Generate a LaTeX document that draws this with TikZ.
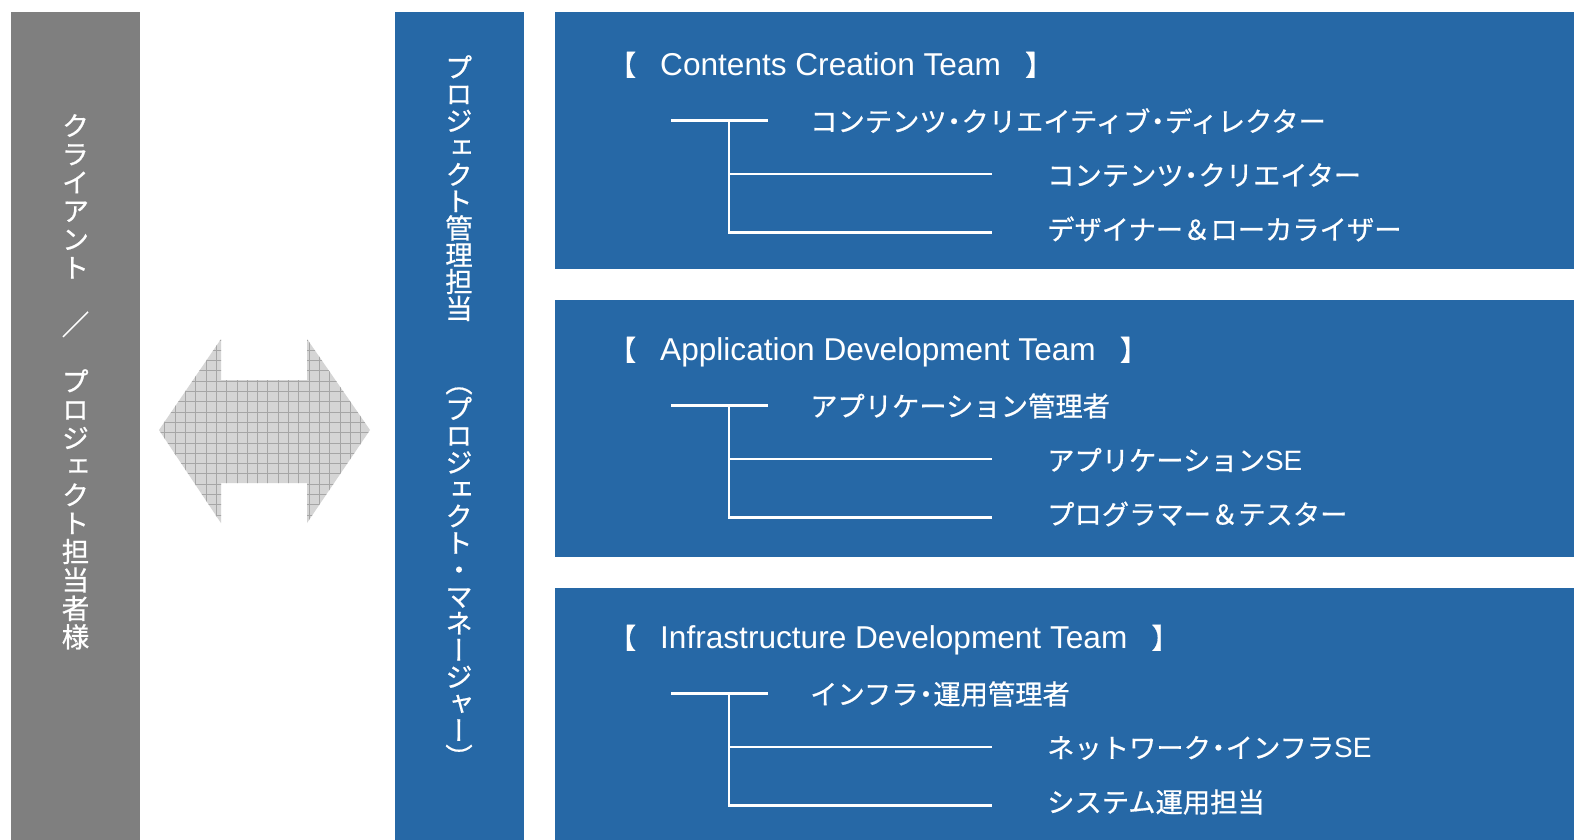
\documentclass[tikz,border=0pt]{standalone}
\usepackage{fontspec}
\setmainfont{Liberation Sans}
\newfontfamily\jp[FakeBold=0.6]{Noto Sans CJK JP}
\newfontfamily\jpv[RawFeature=+vert,FakeBold=0.6]{Noto Sans CJK JP}
\newfontfamily\lat{Liberation Sans}
\definecolor{teamblue}{HTML}{2668A6}
\definecolor{clientgray}{HTML}{7F7F7F}
\definecolor{arrowfill}{HTML}{D5D5D5}
\definecolor{arrowgrid}{HTML}{A6A6A6}
\newcommand\nd{\hspace{-0.23em}・\hspace{-0.23em}}
\newcommand\se{{\lat\fontsize{28}{30}\selectfont SE}}
\tikzset{
  panel/.style={fill=#1, draw=none, anchor=north west, inner sep=0pt, outer sep=0pt},
  titletext/.style={anchor=base west, inner sep=0pt, text=white, font=\lat\fontsize{31.6}{32}\selectfont},
  roletext/.style={anchor=west, inner sep=0pt, text=white, font=\jp\fontsize{27.3}{30}\selectfont},
  treeline/.style={draw=white, line width=2.6pt},
  verttext/.style={anchor=north, inner sep=0pt, align=center, text=white},
}
% #1 name, #2 box top, #3 box height, #4 content offset, #5 title, #6-#8 roles
\newcommand\teamblock[8]{%
  \node[panel=teamblue, minimum width=1019pt, minimum height=#3pt] (#1box) at (555,#2) {};
  \node[titletext] (#1title) at (608,{75.5+#4})
    {{\jp\fontsize{28}{30}\selectfont 【}\hspace{24pt}#5\hspace{24pt}{\jp\fontsize{28}{30}\selectfont 】}};
  \coordinate (#1l0) at (671,{120.7+#4});
  \coordinate (#1l1) at (768,{120.7+#4});
  \coordinate (#1j) at (729,{120.7+#4});
  \coordinate (#1j2) at (729,{174+#4});
  \coordinate (#1j3) at (729,{232.7+#4});
  \coordinate (#1e2) at (992,{174+#4});
  \coordinate (#1e3) at (992,{232.7+#4});
  \draw[treeline] (#1l0) -- (#1l1);
  \draw[treeline] (#1j) -- (#1j3) -- (#1e3);
  \draw[treeline] (#1j2) -- (#1e2);
  \node[roletext] (#1r1) at (810,{121+#4}) {#6};
  \node[roletext] (#1r2) at (1047,{175+#4}) {#7};
  \node[roletext] (#1r3) at (1047,{229+#4}) {#8};
}
\begin{document}
\begin{tikzpicture}[x=1pt,y=-1pt]
\useasboundingbox (0,0) rectangle (1574,840);
\fill[white] (0,0) rectangle (1574,840);
% client column
\node[panel=clientgray, minimum width=129pt, minimum height=828pt] (client) at (11,12) {};
\node[verttext, font=\jpv\fontsize{27.5}{28.4}\selectfont] (clienttext) at (75.5,114)
  {ク\\ラ\\イ\\ア\\ン\\ト\\　\\{\jp ／}\\　\\プ\\ロ\\ジ\\ェ\\ク\\ト\\担\\当\\者\\様};
% PM column
\node[panel=teamblue, minimum width=129pt, minimum height=828pt] (pm) at (395,12) {};
\node[verttext, font=\jpv\fontsize{27.5}{26.8}\selectfont] (pmtext) at (459,55)
  {プ\\ロ\\ジ\\ェ\\ク\\ト\\管\\理\\担\\当\\　\\[20pt]（\\プ\\ロ\\ジ\\ェ\\ク\\ト\\・\\マ\\ネ\\ー\\ジ\\ャ\\ー\\）};
% double arrow
\path[fill=arrowfill] (159,430) -- (221,339) -- (221,380) -- (307,380) -- (307,339) -- (370,430)
  -- (307,523) -- (307,483) -- (221,483) -- (221,523) -- cycle;
\begin{scope}
  \clip (159,430) -- (221,339) -- (221,380) -- (307,380) -- (307,339) -- (370,430)
  -- (307,523) -- (307,483) -- (221,483) -- (221,523) -- cycle;
  \draw[arrowgrid, line width=0.7pt, step=10.3pt] (150,330) grid (380,530);
\end{scope}
% teams
\teamblock{cc}{12}{257}{0}{Contents Creation Team}
  {コンテンツ\nd クリエイティブ\nd ディレクター}
  {コンテンツ\nd クリエイター}
  {デザイナー＆ローカライザー}
\teamblock{ad}{300}{257}{285}{Application Development Team}
  {アプリケーション管理者}
  {アプリケーション\se}
  {プログラマー＆テスター}
\teamblock{id}{588}{252}{573}{Infrastructure Development Team}
  {インフラ\nd 運用管理者}
  {ネットワーク\nd インフラ\se}
  {システム運用担当}
\end{tikzpicture}
\end{document}
